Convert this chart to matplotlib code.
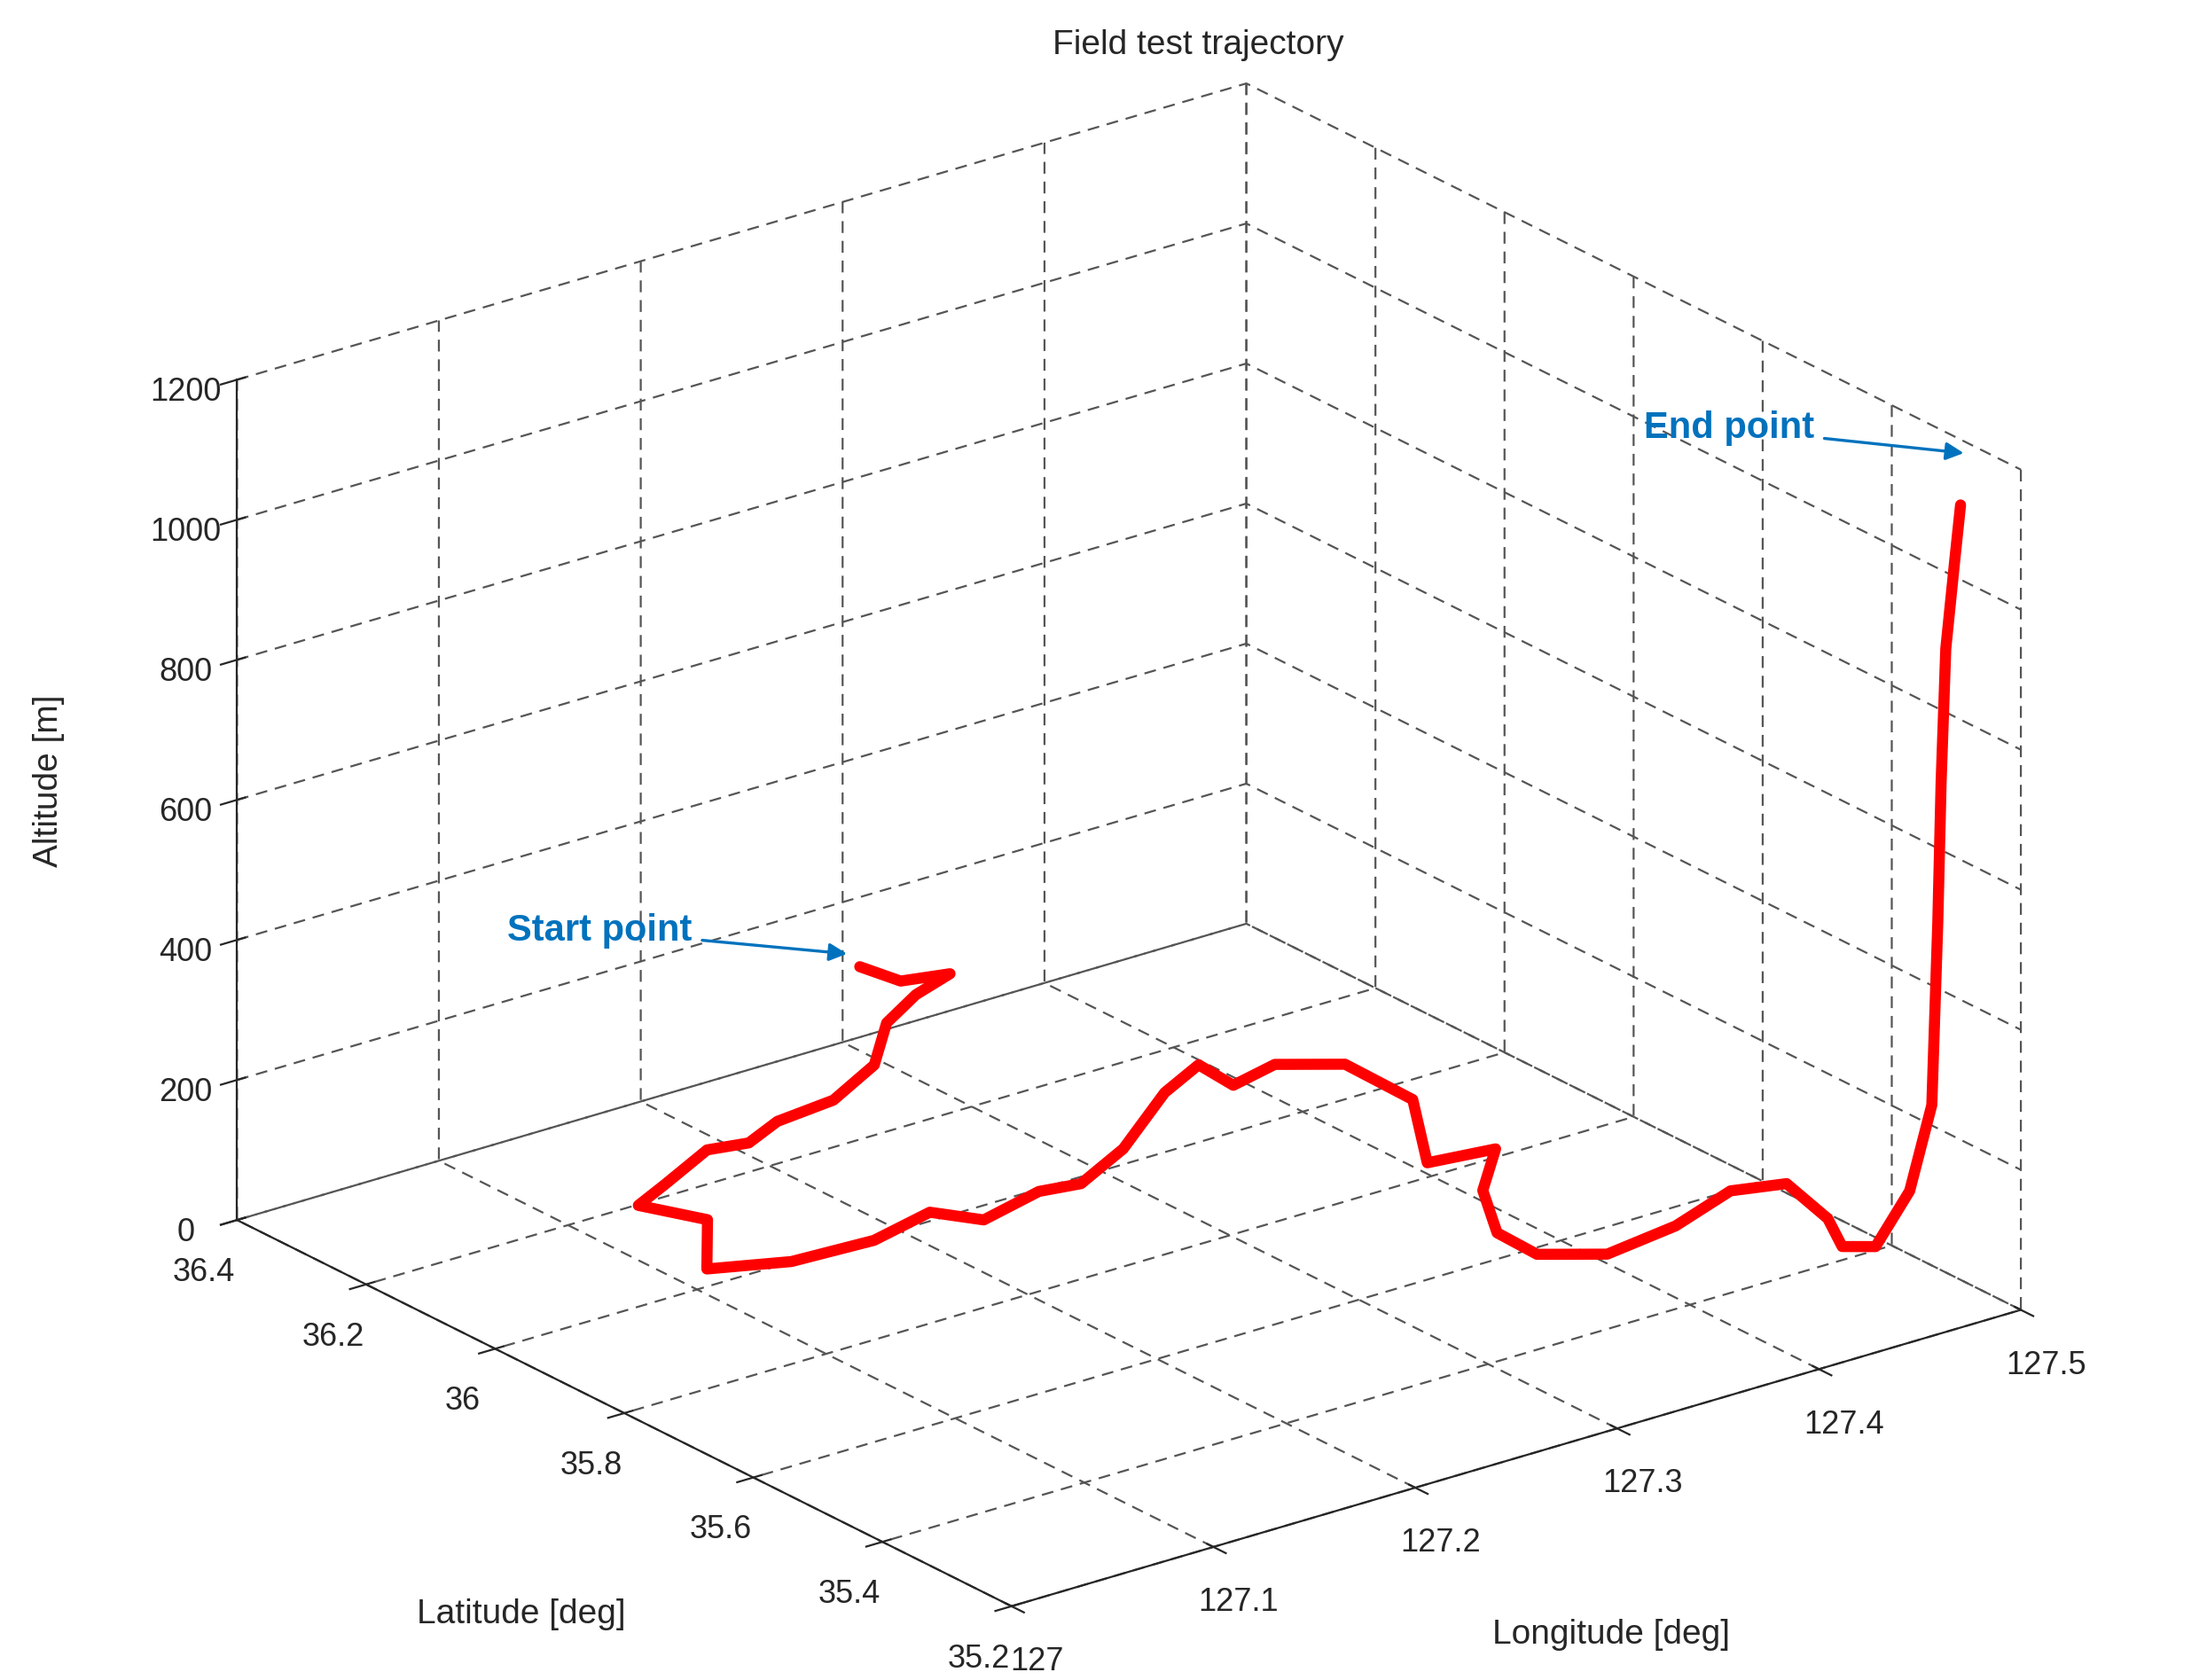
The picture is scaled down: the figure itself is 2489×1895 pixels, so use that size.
import matplotlib
matplotlib.use("Agg")
import matplotlib.pyplot as plt

plt.rcParams['font.family'] = ['Liberation Sans', 'DejaVu Sans']

lon = [127.265,127.260,127.280,127.265,127.247,127.230,127.204,127.182,127.164,127.151,
       127.125,127.108,127.125,127.094,127.125,127.164,127.199,127.211,127.246,127.264,
       127.299,127.347,127.375,127.373,127.399,127.421,127.420,127.385,127.415,127.385,
       127.363,127.362,127.384,127.423,127.462,127.484,127.475,127.462,127.468,127.474,
       127.469,127.471,127.472,127.474,127.478,127.481]
lat = [36.264,36.185,36.171,36.177,36.166,36.132,36.114,36.132,36.120,36.144,
       36.128,36.116,36.062,35.966,35.932,35.926,35.949,35.903,35.927,35.918,
       35.962,36.048,36.083,36.023,36.040,36.000,35.892,35.760,35.748,35.674,
       35.583,35.518,35.478,35.494,35.531,35.513,35.421,35.358,35.325,35.291,
       35.241,35.238,35.236,35.235,35.234,35.234]
alt = [200,220,220,200,180,150,130,110,100,90,
       70,60,50,50,50,50,50,50,50,50,
       50,50,50,50,50,50,50,50,50,50,
       50,50,50,50,50,50,50,50,60,150,
       300,560,760,950,1070,1150]

lon_ticks = [127, 127.1, 127.2, 127.3, 127.4, 127.5]
lat_ticks = [35.2, 35.4, 35.6, 35.8, 36, 36.2, 36.4]
alt_ticks = [0, 200, 400, 600, 800, 1000, 1200]

fig = plt.figure(figsize=(12.445, 9.475), dpi=200)
ax = fig.add_axes([-0.08, -0.078, 1.16, 1.12], projection='3d')
ax.set_proj_type('ortho')
ax.view_init(elev=22.5, azim=-127.5)
ax.set_box_aspect((1, 1, 0.715), zoom=1.04)

ax.plot(lon, lat, alt, color='red', lw=4.5, solid_capstyle='round', solid_joinstyle='round')

ax.set_xlim(127, 127.5); ax.set_ylim(35.2, 36.4); ax.set_zlim(0, 1200)
ax.set_xticks(lon_ticks); ax.set_yticks(lat_ticks); ax.set_zticks(alt_ticks)
ax.set_xticklabels([str(t) for t in lon_ticks])
ax.set_yticklabels([str(t) for t in lat_ticks])
ax.set_zticklabels([str(t) for t in alt_ticks])
for a in (ax.xaxis, ax.yaxis, ax.zaxis):
    a.set_pane_color((1, 1, 1, 0))
    a.pane.set_edgecolor((1, 1, 1, 0))
    a._axinfo['grid'].update(color='#555555', linestyle=(0, (6, 4)), linewidth=0.8)
    a.line.set_color('#262626')
ax.tick_params(labelsize=13, colors='#262626')
ax.tick_params(axis='x', pad=5)
ax.tick_params(axis='y', pad=5)

fig.text(0.236, 0.039, 'Latitude [deg]', ha='center', va='center', fontsize=14, color='#262626')
fig.text(0.730, 0.027, 'Longitude [deg]', ha='center', va='center', fontsize=14, color='#262626')
fig.text(0.022, 0.535, 'Altitude [m]', ha='center', va='center', fontsize=14, rotation=90, color='#262626')
fig.text(0.543, 0.973, 'Field test trajectory', ha='center', va='center', fontsize=14, color='#262626')
blue = '#0072BD'
ax.annotate('Start point', xy=(0.386, 0.432), xytext=(0.23, 0.446), xycoords='figure fraction',
            textcoords='figure fraction', color=blue, fontsize=15, fontweight='bold', va='center',
            arrowprops=dict(arrowstyle='-|>', color=blue, lw=1.2))
ax.annotate('End point', xy=(0.892, 0.730), xytext=(0.745, 0.745), xycoords='figure fraction',
            textcoords='figure fraction', color=blue, fontsize=15, fontweight='bold', va='center',
            arrowprops=dict(arrowstyle='-|>', color=blue, lw=1.2))
fig.savefig('out.png', dpi=200)
